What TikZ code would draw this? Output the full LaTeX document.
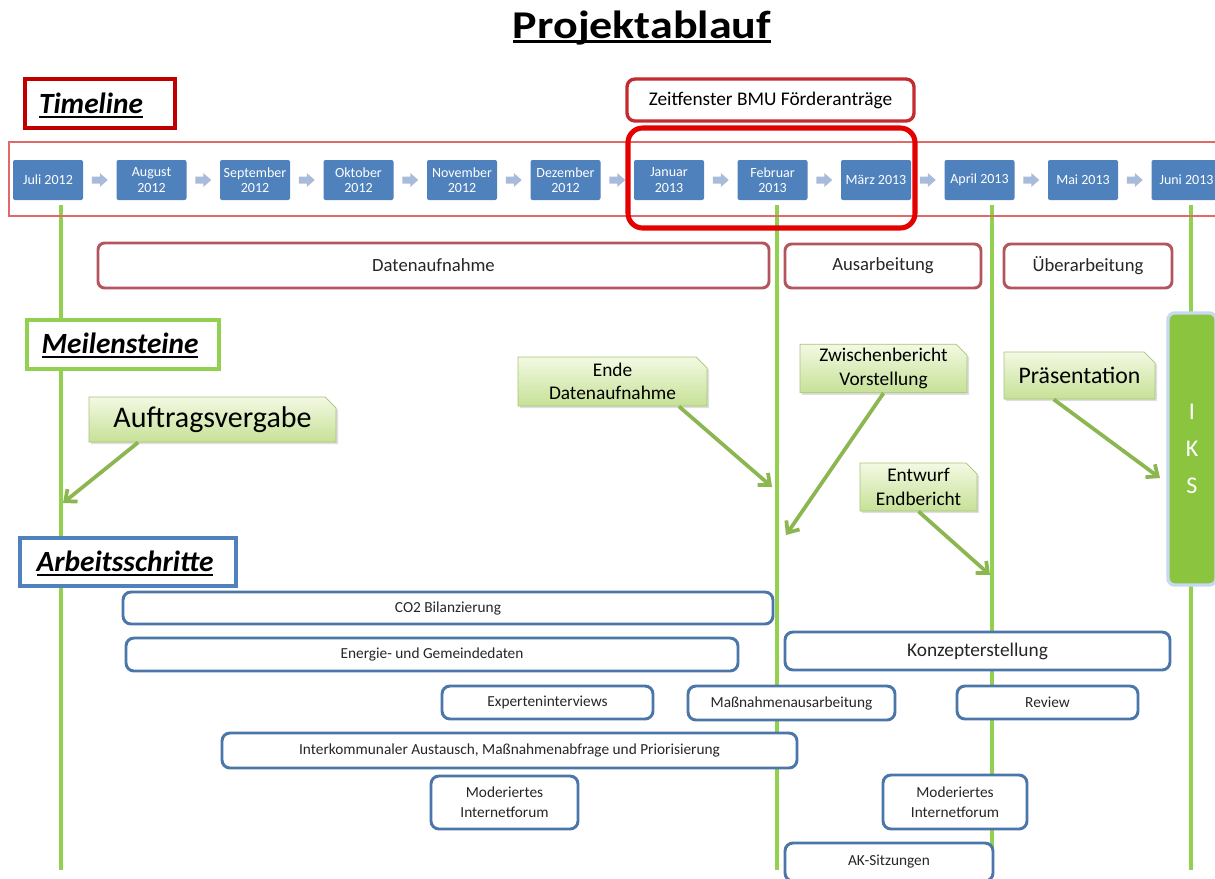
\documentclass[tikz,border=0pt]{standalone}
\usepackage{fontspec}
\usepackage{graphicx}
\setmainfont{Carlito}
\usetikzlibrary{shapes.misc,arrows.meta,calc,shadows}
\definecolor{monthblue}{HTML}{4F81BD}
\definecolor{chevblue}{HTML}{A9BBDA}
\definecolor{tlred}{HTML}{C00000}
\definecolor{zred}{HTML}{C42B30}
\definecolor{bigred}{HTML}{E50000}
\definecolor{stripred}{HTML}{E06A6A}
\definecolor{phasered}{HTML}{B4545C}
\definecolor{glgreen}{HTML}{92D050}
\definecolor{arrowgreen}{HTML}{8CB650}
\definecolor{calltop}{HTML}{F3F9E3}
\definecolor{callbot}{HTML}{C6E196}
\definecolor{callborder}{HTML}{A7C47A}
\definecolor{iksgreen}{HTML}{8BC540}
\definecolor{iksglow}{HTML}{C6D9F0}
\definecolor{workblue}{HTML}{4A76AA}
\definecolor{headblue}{HTML}{4F81BD}
\definecolor{txt}{HTML}{262626}
\newcommand\hul[1]{{\leavevmode\setbox0=\hbox{#1}\rlap{\vrule width\wd0 height -0.10em depth 0.17em}\box0}}
\newcommand\tul[1]{{\leavevmode\setbox0=\hbox{#1}\rlap{\vrule width\wd0 height -0.06em depth 0.13em}\box0}}
\begin{document}
\begin{tikzpicture}[x=0.75pt,y=-0.75pt,
  bbx/.style n args={4}{at={($(#1,#2)!0.5!(#3,#4)$)}, minimum width={(#3-(#1))*0.75pt}, minimum height={(#4-(#2))*0.75pt}},
  month/.style={fill=monthblue, text=white, rounded corners=1.5pt, minimum width=52.5pt, minimum height=30pt, inner sep=0pt, align=center, font=\fontsize{10.5}{11.5}\selectfont},
  headbox/.style={draw=#1, line width=2.6pt, fill=white, inner sep=0pt},
  headtxt/.style={anchor=base, font=\bfseries\itshape\fontsize{22}{26}\selectfont, inner sep=0pt},
  phase/.style={draw=phasered, line width=2.2pt, rounded corners=5pt, fill=white, inner sep=0pt, text=txt, font=\fontsize{14}{17}\selectfont},
  work/.style={draw=workblue, line width=2.2pt, rounded corners=6pt, fill=white, inner sep=0pt, text=txt, align=center, font=\fontsize{11.5}{15}\selectfont},
  callout/.style={chamfered rectangle, chamfered rectangle corners=north east, chamfered rectangle xsep=5pt, draw=callborder, line width=0.6pt, top color=calltop, bottom color=callbot, drop shadow={opacity=0.25, shadow xshift=1.5pt, shadow yshift=-1.5pt}, inner sep=0pt, align=center, text=black, font=\fontsize{14.5}{17.5}\selectfont},
  callarrow/.style={draw=arrowgreen, line width=2.8pt, -{Straight Barb[length=7pt,width=12pt]}},
  glline/.style={draw=glgreen, line width=3pt}
]
\useasboundingbox (0,0) rectangle (1215,879);
\clip (0,0) rectangle (1215,879);
\fill[white] (0,0) rectangle (1215,879);

% title
\node[anchor=base, inner sep=0pt, font=\bfseries\fontsize{29.5}{34}\selectfont] (title) at (642,38) {\scalebox{1.17}[1]{\tul{Projektablauf}}};

% green vertical lines
\coordinate (l1t) at (61,205);  \coordinate (l1b) at (61,870);
\coordinate (l2t) at (777,205); \coordinate (l2b) at (777,870);
\coordinate (l3t) at (992,205); \coordinate (l3b) at (992,870);
\coordinate (l4t) at (1191,205);\coordinate (l4b) at (1191,870);
\draw[glline] (l1t) -- (l1b);
\draw[glline] (l2t) -- (l2b);
\draw[glline] (l3t) -- (l3b);
\draw[glline] (l4t) -- (l4b);

% timeline heading and window
\node[headbox=tlred, bbx={25}{79}{175}{128}] (tlbox) {};
\node[headtxt] (tltxt) at (91,113) {\hul{Timeline}};
\node[draw=zred, line width=2.5pt, rounded corners=6pt, fill=white, inner sep=0pt, font=\fontsize{14.5}{17}\selectfont, bbx={627}{79}{914}{121}] (zeit) {Zeitfenster BMU Förderanträge};

% strip
\node[draw=stripred, line width=1.1pt, inner sep=0pt, bbx={9}{142}{1230}{216}] (strip) {};

% months
\node[month] (m1) at (48,180) {Juli 2012};
\node[month] (m2) at (151.5,180) {August\\2012};
\node[month] (m3) at (255,180) {September\\2012};
\node[month] (m4) at (358.5,180) {Oktober\\2012};
\node[month] (m5) at (462,180) {November\\2012};
\node[month] (m6) at (565.5,180) {Dezember\\2012};
\node[month] (m7) at (669,180) {Januar\\2013};
\node[month] (m8) at (772.5,180) {Februar\\2013};
\node[month] (m9) at (876,180) {März 2013};
\node[month] (m10) at (979.5,180) {April 2013};
\node[month] (m11) at (1083,180) {Mai 2013};
\node[month] (m12) at (1186.5,180) {Juni 2013};
\foreach \a/\b in {m1/m2,m2/m3,m3/m4,m4/m5,m5/m6,m6/m7,m7/m8,m8/m9,m9/m10,m10/m11,m11/m12}
  \fill[chevblue, shift={($(\a.east)!0.5!(\b.west)$)}] (-8,-3.5) -- (0,-3.5) -- (0,-7) -- (8,0) -- (0,7) -- (0,3.5) -- (-8,3.5) -- cycle;

\node[draw=bigred, line width=3.8pt, rounded corners=11pt, inner sep=0pt, bbx={628}{128}{915}{228}] (win) {};

% phases
\node[phase, bbx={98}{243}{769}{288}] (dat) {Datenaufnahme};
\node[phase, bbx={785}{244}{981}{288}] (aus) {Ausarbeitung};
\node[phase, bbx={1004}{244}{1172}{288}] (ueb) {Überarbeitung};

% milestones
\node[headbox=glgreen, line width=3pt, bbx={27}{320}{219}{369}] (msbox) {};
\node[headtxt] (mstxt) at (120,353) {\hul{Meilensteine}};

\node[callout, font=\fontsize{22.5}{26}\selectfont, bbx={89}{397}{336}{442}] (auf) {Auftragsvergabe};
\node[callout, bbx={518}{357}{707}{406}] (ende) {Ende\\Datenaufnahme};
\node[callout, bbx={800}{345}{967}{392}] (zw) {Zwischenbericht\\Vorstellung};
\node[callout, bbx={860}{463}{977}{511}] (entw) {Entwurf\\Endbericht};
\node[callout, font=\fontsize{17.8}{21}\selectfont, bbx={1004}{352}{1155}{399}] (pres) {Präsentation};

\node[fill=iksgreen, draw=iksglow, line width=2.5pt, rounded corners=5pt, inner sep=0pt, text=white, align=center, font=\fontsize{18}{28}\selectfont, bbx={1168}{313}{1216}{585}] (iks) {I\\K\\S};

\coordinate (aufE) at (63,503);
\coordinate (endeE) at (772,487);
\coordinate (zwE) at (786,535);
\coordinate (entwE) at (990,575);
\coordinate (presE) at (1160,478);
\draw[callarrow] ($(auf.south west)!0.2!(auf.south east)$) -- (aufE);
\draw[callarrow] ($(ende.south west)!0.85!(ende.south east)$) -- (endeE);
\draw[callarrow] (zw.south) -- (zwE);
\draw[callarrow] (entw.south) -- (entwE);
\draw[callarrow] ($(pres.south west)!0.33!(pres.south east)$) -- (presE);

% work steps
\node[headbox=headblue, line width=2.8pt, bbx={20}{538}{236}{586}] (asbox) {};
\node[headtxt] (astxt) at (125,571) {\hul{Arbeitsschritte}};

\node[work, bbx={123}{592}{773}{624}] (co2) {CO2 Bilanzierung};
\node[work, bbx={126}{638}{738}{671}] (ener) {Energie- und Gemeindedaten};
\node[work, font=\fontsize{14.5}{17}\selectfont, bbx={785}{632}{1170}{670}] (konz) {Konzepterstellung};
\node[work, bbx={442}{686}{653}{719}] (exp) {Experteninterviews};
\node[work, bbx={688}{686}{895}{720}] (mass) {Maßnahmenausarbeitung};
\node[work, bbx={957}{686}{1138}{719}] (rev) {Review};
\node[work, bbx={222}{733}{797}{768}] (inter) {Interkommunaler Austausch, Maßnahmenabfrage und Priorisierung};
\node[work, bbx={431}{776}{578}{829}] (forl) {Moderiertes\\Internetforum};
\node[work, bbx={883}{775}{1027}{829}] (forr) {Moderiertes\\Internetforum};
\node[work, bbx={785}{843}{993}{881}] (ak) {AK-Sitzungen};
\end{tikzpicture}
\end{document}
